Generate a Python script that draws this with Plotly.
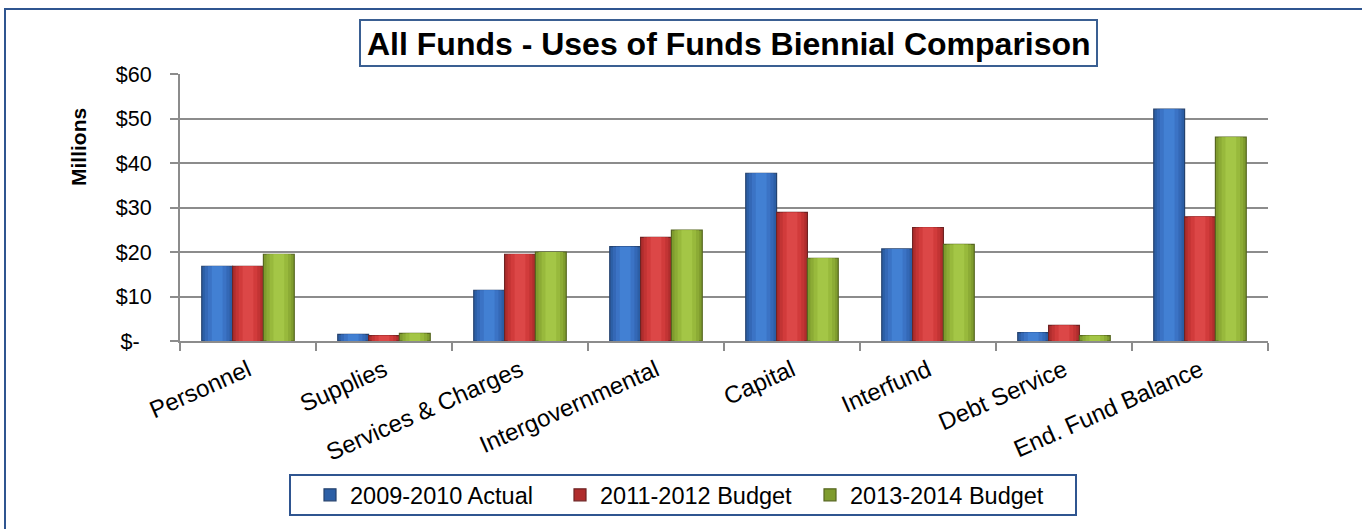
import plotly.graph_objects as go

# Uses of funds, in millions of dollars
categories = ["Personnel", "Supplies", "Services & Charges", "Intergovernmental",
              "Capital", "Interfund", "Debt Service", "End. Fund Balance"]
actual_2009_2010 = [16.8, 1.5, 11.4, 21.2, 37.7, 20.7, 1.9, 52.1]
budget_2011_2012 = [16.8, 1.2, 19.5, 23.3, 28.9, 25.5, 3.5, 27.9]
budget_2013_2014 = [19.5, 1.7, 20.0, 24.9, 18.6, 21.7, 1.2, 45.8]

series_names = ["2009-2010 Actual", "2011-2012 Budget", "2013-2014 Budget"]
y_tick_values = [0, 10, 20, 30, 40, 50, 60]
y_tick_labels = ["$-\u00a0\u00a0", "$10", "$20", "$30", "$40", "$50", "$60"]

W, H = 1362, 529
L, R, T, B = 180, 94, 74, 188
PW, PH = W - L - R, H - T - B


def px_x(p):
    return (p - L) / PW


def px_y(p):
    return (H - B - p) / PH


# shading ramps (edge -> centre) for each series, giving a rounded look
ramps = [
    ["#2c5fa6", "#3468b6", "#3b73c5", "#4280d3"],
    ["#b02d2d", "#c23434", "#d13b3b", "#dc4747"],
    ["#7f9c2e", "#8cab35", "#98b93c", "#a4c646"],
]
outline = ["#24426e", "#6e2323", "#56661f"]
series = [actual_2009_2010, budget_2011_2012, budget_2013_2014]

bargap = 0.32
slot = (1 - bargap) / 3
fig = go.Figure()
for i, (vals, name) in enumerate(zip(series, series_names)):
    offset = -(1 - bargap) / 2 + i * slot
    fracs = [1.0, 0.8, 0.6, 0.35]
    for k, (f, col) in enumerate(zip(fracs, ramps[i])):
        w = slot * f
        off = offset + (slot - w) / 2
        fig.add_trace(go.Bar(
            x=categories, y=vals, name=name,
            width=w, offset=off,
            marker=dict(color=col,
                        line=dict(color=outline[i], width=1.2) if k == 0 else dict(width=0)),
            showlegend=(k == 0), legendgroup=name,
            hoverinfo="skip" if k else None,
        ))

fig.update_layout(
    width=W, height=H,
    margin=dict(l=L, r=R, t=T, b=B, pad=0),
    barmode="overlay",
    plot_bgcolor="white", paper_bgcolor="white",
    font=dict(family="Arial, Liberation Sans, sans-serif", color="black"),
    showlegend=True,
    legend=dict(orientation="h", x=px_x(310), xanchor="left",
                y=px_y(495), yanchor="middle",
                font=dict(size=23.5), entrywidth=205, itemwidth=30,
                bgcolor="rgba(0,0,0,0)", traceorder="normal"),
    xaxis=dict(
        type="category", showline=True, linecolor="#8c8c8c", linewidth=2,
        ticks="outside", ticklen=8, tickwidth=2, tickcolor="#8c8c8c",
        tickson="boundaries", tickangle=-24, tickfont=dict(size=24),
        ticklabelstandoff=4,
        showgrid=False, zeroline=False, fixedrange=True,
    ),
    yaxis=dict(
        range=[0, 60], tickvals=y_tick_values, ticktext=y_tick_labels,
        showline=True, linecolor="#8c8c8c", linewidth=2,
        ticks="outside", ticklen=8, tickwidth=2, tickcolor="#8c8c8c",
        showgrid=True, gridcolor="#8c8c8c", gridwidth=2,
        zeroline=False, tickfont=dict(size=21.5), ticklabelstandoff=14,
    ),
    shapes=[
        # outer chart frame
        dict(type="rect", xref="paper", yref="paper",
             x0=px_x(5), x1=px_x(W + 20), y0=px_y(H + 20), y1=px_y(9),
             line=dict(color="#2f5590", width=2), layer="below"),
        # title frame
        dict(type="rect", xref="paper", yref="paper",
             x0=px_x(360), x1=px_x(1097), y0=px_y(66), y1=px_y(20),
             line=dict(color="#3a5f92", width=2), fillcolor="white"),
        # legend frame
        dict(type="rect", xref="paper", yref="paper",
             x0=px_x(290), x1=px_x(1076), y0=px_y(515), y1=px_y(475),
             line=dict(color="#2f5590", width=2)),
    ],
    annotations=[
        dict(text="<b>All Funds - Uses of Funds Biennial Comparison</b>",
             xref="paper", yref="paper", x=px_x(729), y=px_y(44),
             xanchor="center", yanchor="middle", showarrow=False,
             font=dict(size=32)),
        dict(text="<b>Millions</b>", textangle=-90,
             xref="paper", yref="paper", x=px_x(78), y=px_y(147),
             xanchor="center", yanchor="middle", showarrow=False,
             font=dict(size=21)),
    ],
)

fig.write_html("out.html")
